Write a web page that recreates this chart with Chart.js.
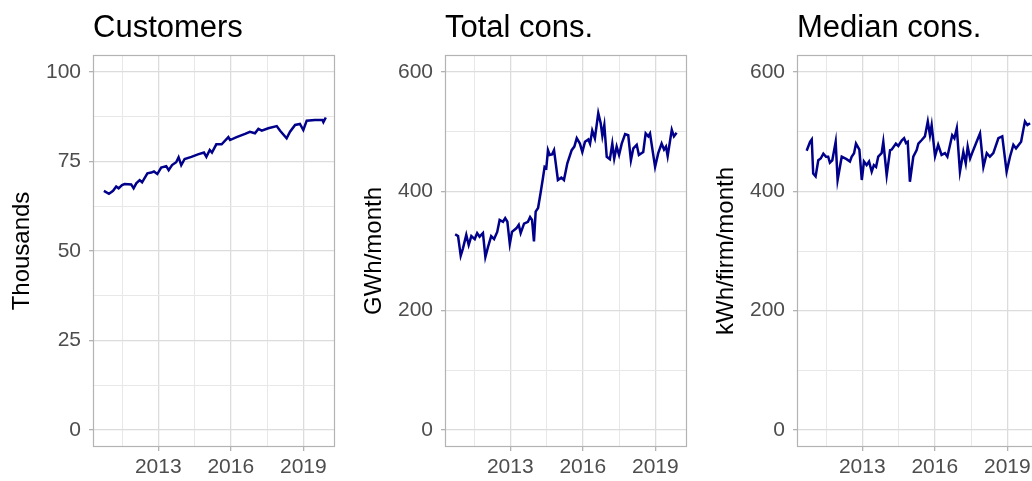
<!DOCTYPE html>
<html>
<head>
<meta charset="utf-8">
<script src="https://cdn.jsdelivr.net/npm/chart.js@4.4.1/dist/chart.umd.min.js"></script>
<style>
  html, body { margin: 0; padding: 0; background: #fff; }
  #wrap { position: relative; width: 1032px; height: 481px; overflow: hidden; }
  .panel { position: absolute; top: 0; width: 352px; height: 481px; }
</style>
</head>
<body>
<div id="wrap">
  <div class="panel" style="left:0px"><canvas id="c1" width="352" height="481"></canvas></div>
  <div class="panel" style="left:352px"><canvas id="c2" width="352" height="481"></canvas></div>
  <div class="panel" style="left:704px"><canvas id="c3" width="352" height="481"></canvas></div>
</div>
<script>
/* ---- data ---- */
const xMajorTicks = [2013, 2016, 2019];
const xMinorTicks = [2011.5, 2014.5, 2017.5];
const custTicks = [0, 25, 50, 75, 100];
const consTicks = [0, 200, 400, 600];

// Customers, thousands
const custYears = [2010.75, 2010.96, 2011.13, 2011.26, 2011.36, 2011.50, 2011.61, 2011.88, 2011.98, 2012.09,
  2012.23, 2012.33, 2012.55, 2012.71, 2012.82, 2012.96, 2013.12, 2013.33, 2013.43, 2013.57,
  2013.74, 2013.84, 2013.95, 2014.09, 2014.37, 2014.64, 2014.89, 2014.99, 2015.13, 2015.22,
  2015.40, 2015.62, 2015.90, 2015.97, 2016.24, 2016.59, 2016.79, 2017.00, 2017.14, 2017.28,
  2017.55, 2017.90, 2018.04, 2018.31, 2018.45, 2018.66, 2018.86, 2019.00, 2019.14, 2019.48,
  2019.79, 2019.83, 2019.93];
const custValues = [66.8, 66.0, 66.8, 68.0, 67.5, 68.4, 68.7, 68.6, 67.5, 68.9,
  69.8, 69.2, 71.7, 71.9, 72.2, 71.5, 73.3, 73.7, 72.6, 74.0,
  74.8, 76.2, 74.0, 75.7, 76.3, 77.0, 77.5, 76.3, 78.2, 77.5,
  79.8, 79.8, 81.8, 81.0, 81.8, 82.7, 83.3, 82.9, 84.1, 83.6,
  84.3, 84.9, 83.6, 81.5, 83.3, 85.2, 85.5, 83.8, 86.4, 86.6,
  86.6, 86.0, 87.3];

// Total consumption, GWh/month
const totalYears = [2010.72, 2010.84, 2010.95, 2011.04, 2011.18, 2011.28, 2011.39, 2011.53, 2011.63, 2011.73,
  2011.87, 2011.97, 2012.08, 2012.21, 2012.33, 2012.46, 2012.56, 2012.70, 2012.79, 2012.88,
  2012.98, 2013.07, 2013.25, 2013.35, 2013.43, 2013.57, 2013.73, 2013.82, 2013.90, 2013.98,
  2014.05, 2014.15, 2014.26, 2014.35, 2014.42, 2014.49, 2014.56, 2014.63, 2014.73, 2014.81,
  2014.97, 2015.11, 2015.22, 2015.36, 2015.54, 2015.65, 2015.75, 2015.88, 2015.98, 2016.09,
  2016.23, 2016.30, 2016.39, 2016.50, 2016.64, 2016.74, 2016.81, 2016.89, 2016.99, 2017.12,
  2017.22, 2017.30, 2017.40, 2017.50, 2017.61, 2017.75, 2017.88, 2017.99, 2018.09, 2018.23,
  2018.32, 2018.50, 2018.60, 2018.71, 2018.78, 2018.99, 2019.12, 2019.26, 2019.36, 2019.44,
  2019.51, 2019.68, 2019.77, 2019.88];
const totalValues = [328, 325, 292, 304, 327, 310, 325, 320, 330, 324,
  330, 290, 307, 325, 320, 332, 352, 349, 355, 349,
  312, 332, 338, 344, 330, 346, 349, 357, 352, 316,
  366, 372, 399, 422, 441, 439, 469, 461, 462, 469,
  419, 423, 419, 447, 469, 475, 489, 480, 466, 483,
  487, 480, 502, 489, 531, 514, 493, 511, 458, 454,
  480, 455, 475, 461, 480, 496, 494, 452, 472, 478,
  461, 466, 497, 492, 497, 441, 464, 480, 470, 475,
  459, 503, 492, 498];

// Median consumption, kWh/firm/month
const medianYears = [2010.70, 2010.84, 2010.91, 2010.97, 2011.07, 2011.18, 2011.28, 2011.39, 2011.50, 2011.59,
  2011.66, 2011.76, 2011.90, 2011.98, 2012.15, 2012.35, 2012.49, 2012.56, 2012.66, 2012.74,
  2012.88, 2012.98, 2013.07, 2013.18, 2013.28, 2013.39, 2013.48, 2013.57, 2013.66, 2013.80,
  2013.87, 2014.01, 2014.15, 2014.22, 2014.39, 2014.49, 2014.63, 2014.73, 2014.81, 2014.88,
  2014.97, 2015.11, 2015.25, 2015.32, 2015.46, 2015.59, 2015.71, 2015.80, 2015.87, 2016.01,
  2016.14, 2016.28, 2016.42, 2016.52, 2016.72, 2016.81, 2016.91, 2017.04, 2017.18, 2017.28,
  2017.36, 2017.46, 2017.59, 2017.73, 2017.87, 2018.01, 2018.15, 2018.28, 2018.42, 2018.63,
  2018.79, 2018.97, 2019.11, 2019.25, 2019.36, 2019.57, 2019.66, 2019.73, 2019.83, 2019.94];
const medianValues = [468, 483, 487, 430, 425, 452, 455, 463, 458, 458,
  448, 452, 483, 419, 458, 454, 450, 458, 464, 480,
  470, 419, 450, 444, 450, 433, 444, 441, 458, 464,
  483, 427, 469, 470, 480, 476, 485, 489, 481, 483,
  416, 458, 469, 480, 486, 492, 517, 494, 511, 459,
  478, 461, 464, 458, 494, 489, 506, 433, 466, 447,
  475, 455, 469, 483, 497, 441, 464, 458, 464, 489,
  492, 433, 458, 478, 472, 483, 503, 517, 511, 514];

/* ---- helpers ---- */
const FONT = "'Liberation Sans', Arial, Helvetica, sans-serif";
const GRID_MAJOR = '#dcdcdc';
const GRID_MINOR = '#e8e8e8';
const BORDER = '#b3b3b3';

function withMidpoints(majors) {
  const out = [];
  majors.forEach((v, i) => {
    out.push(v);
    if (i < majors.length - 1) out.push((v + majors[i + 1]) / 2);
  });
  return out;
}

const panelFrame = {
  id: 'panelFrame',
  afterDraw(chart, args, opts) {
    const { ctx, chartArea: a } = chart;
    ctx.save();
    ctx.strokeStyle = BORDER;
    ctx.lineWidth = 1.2;
    ctx.strokeRect(a.left + 0.5, a.top + 0.5, a.right - a.left - 1, a.bottom - a.top - 1);
    // panel title
    ctx.fillStyle = '#000';
    ctx.font = '31px ' + FONT;
    ctx.textBaseline = 'alphabetic';
    ctx.textAlign = 'left';
    ctx.fillText(opts.text, a.left, 37);
    ctx.restore();
  }
};

function makeChart(id, title, yTitle, years, values, yMajors, yMin, yMax) {
  const yAll = withMidpoints(yMajors);
  const xAll = xMajorTicks.concat(xMinorTicks).sort((a, b) => a - b);
  const isMajorX = v => xMajorTicks.includes(v);
  const isMajorY = v => yMajors.includes(v);

  new Chart(document.getElementById(id), {
    type: 'line',
    data: {
      datasets: [{
        data: years.map((x, i) => ({ x: x, y: values[i] })),
        borderColor: '#00008b',
        borderWidth: 2.5,
        pointRadius: 0,
        tension: 0,
        fill: false
      }]
    },
    options: {
      responsive: false,
      devicePixelRatio: 1,
      animation: false,
      events: [],
      layout: { padding: { left: 0, right: 17, top: 55, bottom: 0 } },
      plugins: {
        legend: { display: false },
        tooltip: { enabled: false },
        panelFrame: { text: title }
      },
      scales: {
        x: {
          type: 'linear',
          min: 2010.30, max: 2020.31,
          afterBuildTicks: s => { s.ticks = xAll.map(v => ({ value: v })); },
          afterFit: s => { s.height = 34; },
          border: { display: false },
          grid: {
            color: c => isMajorX(c.tick.value) ? GRID_MAJOR : GRID_MINOR,
            lineWidth: c => isMajorX(c.tick.value) ? 1.3 : 1,
            tickColor: c => isMajorX(c.tick.value) ? BORDER : 'rgba(0,0,0,0)',
            tickLength: 4
          },
          ticks: {
            autoSkip: false, maxRotation: 0, padding: 4,
            color: '#4d4d4d',
            font: { family: FONT, size: 21 },
            callback: v => isMajorX(v) ? String(v) : ''
          }
        },
        y: {
          min: yMin, max: yMax,
          afterBuildTicks: s => { s.ticks = yAll.map(v => ({ value: v })); },
          afterFit: s => { s.width = 93; },
          border: { display: false },
          grid: {
            color: c => isMajorY(c.tick.value) ? GRID_MAJOR : GRID_MINOR,
            lineWidth: c => isMajorY(c.tick.value) ? 1.3 : 1,
            tickColor: c => isMajorY(c.tick.value) ? BORDER : 'rgba(0,0,0,0)',
            tickLength: 4
          },
          ticks: {
            autoSkip: false, padding: 8,
            color: '#4d4d4d',
            font: { family: FONT, size: 21 },
            callback: v => isMajorY(v) ? String(v) : ''
          },
          title: {
            display: true,
            text: yTitle,
            color: '#000',
            font: { family: FONT, size: 24 },
            padding: { top: 8, bottom: 0 }
          }
        }
      }
    },
    plugins: [panelFrame]
  });
}

makeChart('c1', 'Customers', 'Thousands', custYears, custValues, custTicks, -4.75, 104.75);
makeChart('c2', 'Total cons.', 'GWh/month', totalYears, totalValues, consTicks, -28.5, 628.5);
makeChart('c3', 'Median cons.', 'kWh/firm/month', medianYears, medianValues, consTicks, -28.5, 628.5);
</script>
</body>
</html>
